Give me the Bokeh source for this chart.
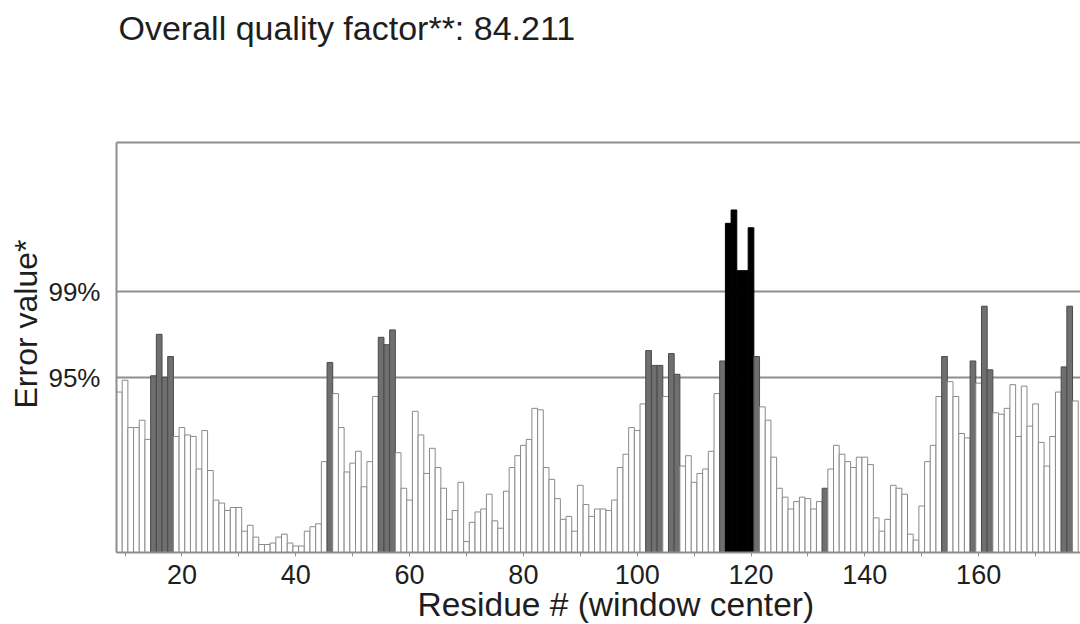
import math
from bokeh.plotting import figure
from bokeh.models import Range1d, FixedTicker, LinearAxis, Span, Title
from bokeh.embed import file_html
from bokeh.resources import INLINE

# ---------------- data ----------------
title_text = "Overall quality factor**: 84.211"
x_title = "Residue # (window center)"
y_title = "Error value*"

residues = list(range(9, 178))
errors = [
    10.4, 11.2, 8.0, 8.0, 8.5, 7.2, 11.5, 14.3, 11.4, 12.8,          # 9-18
    7.4, 8.0, 7.5, 7.4, 5.2, 7.8, 5.1, 3.1, 2.9, 2.4,                # 19-28
    2.6, 2.6, 1.0, 1.4, 0.6, 0.1, 0.1, 0.2, 0.6, 0.8,                # 29-38
    0.2, 0.0, 0.0, 1.0, 1.3, 1.5, 5.7, 12.4, 10.3, 8.0,              # 39-48
    5.0, 5.6, 6.4, 4.0, 5.7, 10.1, 14.1, 13.6, 14.6, 6.3,            # 49-58
    3.9, 3.1, 9.1, 7.5, 4.9, 6.6, 5.3, 3.9, 1.8, 2.4,                # 59-68
    4.3, 0.3, 1.6, 2.3, 2.5, 3.5, 1.7, 1.2, 3.7, 5.3,                # 69-78
    6.1, 6.8, 7.2, 9.3, 9.2, 5.3, 4.5, 3.2, 1.8, 2.0,                # 79-88
    1.0, 4.1, 2.8, 2.0, 2.5, 2.5, 2.4, 3.1, 5.3, 6.2,                # 89-98
    8.0, 7.8, 9.6, 13.2, 12.2, 12.2, 10.1, 13.0, 11.6, 5.4,          # 99-108
    6.1, 4.3, 4.9, 5.2, 6.4, 10.3, 12.5, 21.8, 22.7, 18.6,           # 109-118
    18.6, 21.5, 12.8, 9.4, 8.5, 6.0, 3.9, 3.3, 2.5, 3.0,             # 119-128
    3.3, 3.2, 2.5, 3.0, 3.9, 5.2, 6.8, 6.2, 5.7, 5.3,                # 129-138
    6.0, 6.0, 5.5, 1.9, 1.0, 1.8, 4.1, 3.9, 3.5, 0.8,                # 139-148
    0.4, 2.7, 5.7, 6.8, 10.1, 12.8, 11.1, 10.1, 7.6, 7.3,            # 149-158
    12.5, 11.0, 16.2, 11.9, 9.0, 8.9, 9.3, 10.9, 7.4, 10.8,          # 159-168
    8.1, 9.6, 7.0, 5.4, 7.4, 10.4, 12.1, 16.2, 9.8,                  # 169-177
]
grey_extra = [133]          # drawn grey although under the 95% line
q95 = 11.38                 # 95% rejection limit
q99 = 17.19                 # 99% rejection limit
x_ticks = [20, 40, 60, 80, 100, 120, 140, 160]
x_minor = [10, 30, 50, 70, 90, 110, 130, 150, 170]

# ---------------- layout ----------------
W, H = 1080, 624
L, T, B = 116, 142, 552          # frame left / top / bottom in pixels
x0, x1 = 8.5, 177.9
y0, y1 = -0.44, 27.26
FONT = "Liberation Sans"
GRID = "#8e8e8e"
TXT = "#1e1e1e"

fill, line = [], []
for r, v in zip(residues, errors):
    if v > q99:
        fill.append("#000000"); line.append("#000000")
    elif v > q95 or r in grey_extra:
        fill.append("#6f6f6f"); line.append("#4a4a4a")
    else:
        fill.append("#ffffff"); line.append("#8a8a8a")

p = figure(width=W, height=H, x_range=Range1d(x0, x1), y_range=Range1d(y0, y1),
           output_backend="svg", toolbar_location=None,
           min_border_left=L, min_border_right=0, min_border_top=T,
           min_border_bottom=H - B)
p.outline_line_color = None
p.grid.visible = False
p.background_fill_color = "white"
p.border_fill_color = "white"

for q in (q95, q99):
    p.add_layout(Span(location=q, dimension="width", line_color=GRID,
                      line_width=2, level="underlay"))

p.vbar(x=residues, top=errors, bottom=y0, width=1.0,
       fill_color=fill, line_color=line, line_width=1)

# x axis
xa = p.xaxis[0]
xa.ticker = FixedTicker(ticks=x_ticks, minor_ticks=x_minor)
xa.axis_line_color = GRID
xa.axis_line_width = 2
xa.major_tick_in = 0
xa.major_tick_out = 4
xa.minor_tick_in = 0
xa.minor_tick_out = 4
xa.major_tick_line_color = GRID
xa.minor_tick_line_color = GRID
xa.major_label_text_font = FONT
xa.major_label_text_font_size = "27px"
xa.major_label_text_color = TXT
xa.major_label_standoff = 8

# y axis
ya = p.yaxis[0]
ya.ticker = FixedTicker(ticks=[q95, q99])
ya.major_label_overrides = {q95: "95%", q99: "99%"}
ya.axis_line_color = GRID
ya.axis_line_width = 2
ya.major_tick_in = 0
ya.major_tick_out = 0
ya.minor_tick_line_color = None
ya.major_label_text_font = FONT
ya.major_label_text_font_size = "26px"
ya.major_label_text_color = TXT
ya.major_label_standoff = 16

# top border
top = LinearAxis(ticker=FixedTicker(ticks=[]), axis_line_color=GRID, axis_line_width=2,
                 major_tick_out=0, major_tick_in=0, minor_tick_out=0, minor_tick_in=0,
                 major_label_text_font_size="0px")
p.add_layout(top, "above")

# titles
p.title.text = title_text
p.title.align = "left"
p.title.offset = 2
p.title.standoff = 0
p.title.text_font = FONT
p.title.text_font_size = "34px"
p.title.text_font_style = "normal"
p.title.text_color = TXT
try:
    p.title.padding = dict(top=0, right=0, bottom=96, left=0)
except Exception:
    p.title.standoff = 16

xt = Title(text=x_title, align="left", offset=301, standoff=0, vertical_align="top",
           text_font=FONT, text_font_size="33.5px", text_font_style="normal",
           text_color=TXT)
try:
    xt.standoff = -2
except Exception:
    pass
p.add_layout(xt, "below")
p.add_layout(Title(text=y_title, align="left", offset=144, standoff=4,
                   text_font=FONT, text_font_size="32px", text_font_style="normal",
                   text_color=TXT), "left")

open("out.html", "w").write(file_html(p, INLINE))
